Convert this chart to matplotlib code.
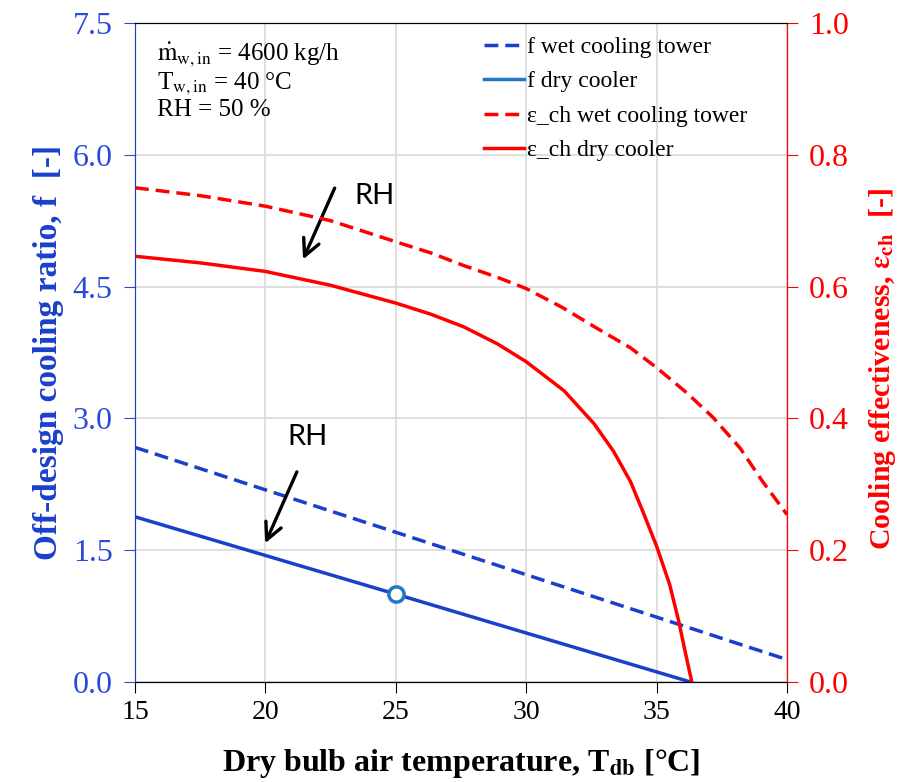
import numpy as np
import matplotlib.pyplot as plt
from matplotlib.lines import Line2D

plt.rcParams['font.family'] = ['Liberation Serif', 'DejaVu Serif']
plt.rcParams['mathtext.fontset'] = 'stix'

# ------------------------------------------------------------
# Datos
# ------------------------------------------------------------
T_f_dry = [15, 25, 36.3]
f_dry = [1.88, 1.0, 0.0]

T_f_wet = [15, 40]
f_wet = [2.67, 0.255]

T_eps_wet = [15, 17.5, 20, 22.5, 25, 26.35, 27.6, 28.9, 30, 31.4, 32.7, 34.0,
             35, 36.15, 37.15, 38.2, 39.05, 40]
eps_wet = [0.750, 0.738, 0.722, 0.700, 0.668, 0.651, 0.632, 0.614, 0.597, 0.568, 0.537, 0.507,
           0.477, 0.439, 0.402, 0.355, 0.305, 0.254]

T_eps_dry = [15, 17.5, 20, 22.5, 25, 26.35, 27.6, 28.9, 30, 31.45, 32.6, 33.35, 34.0,
             34.5, 35, 35.5, 35.85, 36.1, 36.35]
eps_dry = [0.646, 0.636, 0.623, 0.602, 0.575, 0.558, 0.539, 0.513, 0.486, 0.442, 0.392, 0.350, 0.304,
           0.256, 0.206, 0.148, 0.092, 0.045, 0.0]

design_T = [25]
design_f = [1.0]

x_ticks = [15, 20, 25, 30, 35, 40]
f_ticks = [0.0, 1.5, 3.0, 4.5, 6.0, 7.5]
eps_ticks = [0.0, 0.2, 0.4, 0.6, 0.8, 1.0]

blue = '#1a3fcc'
blue_tx = '#2a4bd6'
blue_lt = '#1f78c8'
red = '#ff0000'
dash = (0, (4, 2))

# ------------------------------------------------------------
# Gráfico
# ------------------------------------------------------------
fig = plt.figure(figsize=(9.09, 7.82), dpi=100)
ax = fig.add_axes([0.1485, 0.1279, 0.7173, 0.8427])
ax2 = ax.twinx()

ax.plot(T_f_wet, f_wet, color=blue, lw=2.5, ls=dash)
ax.plot(T_f_dry, f_dry, color=blue, lw=2.5)
ax.plot(design_T, design_f, 'o', ms=11, mfc='white', mec=blue_lt, mew=2.5, zorder=5)

ax2.plot(T_eps_wet, eps_wet, color=red, lw=2.5, ls=dash, solid_joinstyle='round')
ax2.plot(T_eps_dry, eps_dry, color=red, lw=2.5, solid_joinstyle='round')

ax.set_xlim(15, 40)
ax.set_ylim(0, 7.5)
ax2.set_ylim(0, 1.0)
ax.set_xticks(x_ticks)
ax.set_yticks(f_ticks)
ax.set_yticklabels([f'{v:.1f}' for v in f_ticks])
ax2.set_yticks(eps_ticks)
ax2.set_yticklabels([f'{v:.1f}' for v in eps_ticks])

ax.grid(True, color='#d9d9d9', lw=1.2)
ax.set_axisbelow(True)

ax.tick_params(axis='x', labelsize=20, length=8, direction='out', pad=5)
ax.tick_params(axis='y', labelsize=23, length=8, direction='out', colors=blue_tx, pad=8)
ax2.tick_params(axis='y', labelsize=23, length=8, direction='out', colors=red, pad=8)

ax.spines['left'].set_color(blue)
ax2.spines['left'].set_color(blue)
ax2.spines['right'].set_color(red)
ax.spines['right'].set_color(red)

ax.set_xlabel(r'Dry bulb air temperature, T$_{\mathbf{db}}$ [°C]', fontsize=23,
              fontweight='bold', labelpad=16)
ax.set_ylabel('Off-design cooling ratio, f  [-]', fontsize=24, fontweight='bold',
              color=blue, labelpad=6)
ax2.set_ylabel(r'Cooling effectiveness, $\mathbf{\varepsilon}_{\mathbf{ch}}$  [-]', fontsize=21.5,
               fontweight='bold', color=red)
ax2.yaxis.set_label_coords(1.123, 0.475)

# Texto de condiciones
ax.text(15.85, 7.3, r'$\dot{\mathrm{m}}_{\mathrm{w,in}}$ = 4600 kg/h' '\n'
        r'T$_{\mathrm{w,in}}$ = 40 °C' '\n' 'RH = 50 %',
        fontsize=18, va='top', ha='left', linespacing=1.1)

# Flechas RH
ax.annotate('', xy=(21.4, 4.78), xytext=(22.7, 5.65),
            arrowprops=dict(arrowstyle='->', color='black', lw=2.4, mutation_scale=30))
ax.text(24.2, 5.53, 'RH', fontsize=21, family='Lato', ha='center', va='center')
ax.annotate('', xy=(19.95, 1.55), xytext=(21.25, 2.42),
            arrowprops=dict(arrowstyle='->', color='black', lw=2.4, mutation_scale=30))
ax.text(21.6, 2.79, 'RH', fontsize=21, family='Lato', ha='center', va='center')

handles = [
    Line2D([], [], color=blue, lw=2.5, ls=dash),
    Line2D([], [], color=blue_lt, lw=2.5),
    Line2D([], [], color=red, lw=2.5, ls=dash),
    Line2D([], [], color=red, lw=2.5),
]
labels = ['f wet cooling tower', 'f dry cooler', 'ε_ch wet cooling tower', 'ε_ch dry cooler']
ax2.legend(handles, labels, loc='upper right', bbox_to_anchor=(0.972, 1.012), frameon=False,
           fontsize=17, handlelength=1.7, handletextpad=0.15, labelspacing=0.55)

fig.savefig('out.png', dpi=100)
